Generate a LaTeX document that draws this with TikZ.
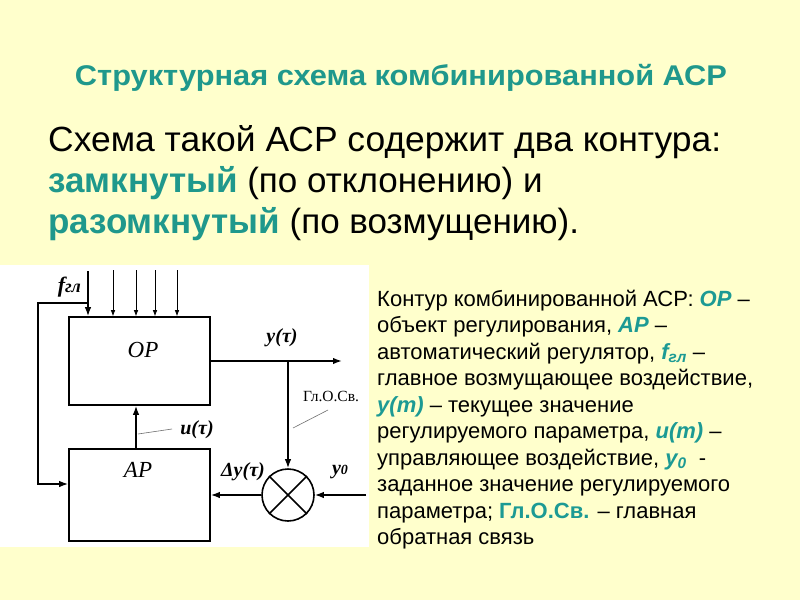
\documentclass[tikz,border=0pt]{standalone}
\usepackage{fontspec}
\setmainfont{Liberation Sans}
\newfontfamily\serif{Liberation Serif}
\usetikzlibrary{arrows.meta,calc}
\definecolor{bg}{HTML}{FFFFCC}
\definecolor{tealA}{HTML}{1F988C}
\definecolor{tealB}{HTML}{1C9A94}
\definecolor{leadgray}{HTML}{707070}
\newcommand\hl[1]{\textcolor{tealB}{\bfseries #1}}
\begin{document}
\begin{tikzpicture}[x=1pt,y=-1pt,
  blockbox/.style={draw, line width=1.6pt, minimum width=141pt, inner sep=0pt},
  mainline/.style={line width=1.6pt},
  arr/.style={-{Latex[length=9pt,width=6.5pt]}},
  thinarr/.style={line width=0.7pt, -{Latex[length=6pt,width=4.5pt]}},
  boxlbl/.style={font=\serif\itshape\fontsize{23}{23}\selectfont, inner sep=0pt},
  siglbl/.style={font=\serif\bfseries\itshape\fontsize{20}{20}\selectfont, inner sep=0pt},
  leader/.style={line width=0.6pt, draw=leadgray},
  rtxt/.style={anchor=base west, inner sep=0pt, font=\fontsize{22}{26}\selectfont},
  btxt/.style={anchor=base west, inner sep=0pt, font=\fontsize{35}{40}\selectfont}
]
\useasboundingbox (0,0) rectangle (800,600);
\fill[bg] (0,0) rectangle (800,600);
\fill[white] (0,265) rectangle (369,547);

% title and heading text
\node[anchor=base, inner sep=0pt, font=\bfseries\fontsize{28.5}{28.5}\selectfont, text=tealA] (title) at (401,85) {\resizebox{652pt}{\height}{Структурная схема комбинированной АСР}};
\node[btxt] (b1) at (48,151) {\resizebox{673pt}{\height}{Схема такой АСР содержит два контура:}};
\node[btxt] (b2) at (48,192) {\textcolor{tealA}{\bfseries замкнутый} (по отклонению) и};
\node[btxt] (b3) at (48,233) {\textcolor{tealA}{\bfseries разомкнутый} (по возмущению).};

% right explanation
\node[rtxt] (r1) at (377,306) {Контур комбинированной АСР: \hl{\itshape ОР} –};
\node[rtxt] (r2) at (377,332.5) {объект регулирования, \hl{\itshape АР} –};
\node[rtxt] (r3) at (377,359) {автоматический регулятор, \hl{\itshape f\textsubscript{гл}} –};
\node[rtxt] (r4) at (377,385.5) {главное возмущающее воздействие,};
\node[rtxt] (r5) at (377,412) {\hl{\itshape у(т)} – текущее значение};
\node[rtxt] (r6) at (377,438.5) {регулируемого параметра, \hl{\itshape u(т)} –};
\node[rtxt] (r7) at (377,465) {управляющее воздействие, \hl{\itshape у\textsubscript{0}}\ \ -};
\node[rtxt] (r8) at (377,491.5) {заданное значение регулируемого};
\node[rtxt] (r9) at (377,518) {параметра; \hl{Гл.О.Св.} – главная};
\node[rtxt] (r10) at (377,544.5) {обратная связь};

% blocks
\node[blockbox, minimum height=88pt] (op) at (139.5,361) {};
\node[blockbox, minimum height=92pt] (ap) at (139.5,495) {};
\node[boxlbl] (oplbl) at (143,350) {ОР};
\node[boxlbl] (aplbl) at (138,470) {АР};
\node[circle, draw, line width=1.6pt, minimum size=52pt, inner sep=0pt] (sum) at (288,495) {};
\draw[mainline] (sum.north west) -- (sum.south east);
\draw[mainline] (sum.north east) -- (sum.south west);

% disturbances
\coordinate (ftop) at (88,271);
\coordinate (fbr) at (88,303);
\coordinate (ffl) at (38,303);
\coordinate (ffb) at (38,484);
\draw[mainline, arr] (ftop) -- (ftop |- op.north);
\node[siglbl, anchor=base east, font=\serif\bfseries\itshape\fontsize{22}{22}\selectfont] (flbl) at (81,292) {f\fontsize{18}{18}\selectfont гл};
\foreach \xx/\nm in {113/d1,136/d2,155/d3,177/d4}{
  \coordinate (\nm) at (\xx,270);
  \draw[thinarr] (\nm) -- (\nm |- op.north);
}
\draw[mainline, arr] (fbr) -- (ffl) -- (ffb) -- (ffb -| ap.west);

% output and feedback
\coordinate (yout) at (342,361);
\coordinate (br) at (288,361);
\coordinate (y0in) at (366,495);
\draw[mainline, arr] (op.east |- yout) -- (yout);
\draw[mainline, arr] (br) -- (sum.north);
\draw[mainline, arr] (y0in) -- (sum.east);
\draw[mainline, arr] (sum.west) -- (sum.west -| ap.east);
\draw[mainline, arr] ([xshift=-3.5pt]ap.north) -- ([xshift=-3.5pt]op.south);

% signal labels
\node[siglbl] (ylbl) at (282,338) {y(τ)};
\node[siglbl] (ulbl) at (197,430) {u(τ)};
\node[siglbl] (dylbl) at (243,472) {Δy(τ)};
\node[siglbl] (y0lbl) at (340,472) {y\fontsize{14}{14}\selectfont 0};
\node[inner sep=0pt, font=\serif\fontsize{15.5}{15.5}\selectfont] (gl) at (331,396) {Гл.О.Св.};
\coordinate (u1) at (138,434);
\coordinate (u2) at (172,429);
\draw[leader] (u1) -- (u2);
\coordinate (g1) at (293,428);
\coordinate (g2) at (328,410);
\draw[leader] (g1) -- (g2);
\end{tikzpicture}
\end{document}
